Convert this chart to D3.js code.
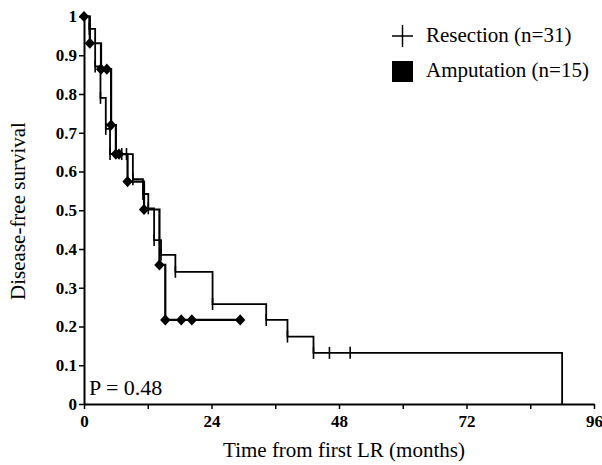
<!DOCTYPE html>
<html lang="en">
<head>
<meta charset="UTF-8">
<script src="https://cdn.jsdelivr.net/npm/d3@7"></script>
<style>
  body { margin: 0; background: #fff; }
  svg text { font-family: "Liberation Serif", "Times New Roman", serif; fill: #000; }
</style>
</head>
<body>
<div id="chart"></div>
<script>
// resection curve: step points (time in months, survival after the drop)
var resTimes = [0, 1.0, 2.1, 3.1, 4.1, 4.9, 9.2, 11.1, 12.1, 13.2, 14.5, 17.2, 24.2, 34.3, 38.3, 43.2, 90];
var resSurv  = [1, 0.968, 0.871, 0.79, 0.71, 0.645, 0.58, 0.542, 0.505, 0.423, 0.385, 0.341, 0.258, 0.217, 0.174, 0.132, 0];
var resCensor = [7.1, 8.0, 46.2, 50.1];

// amputation curve
var ampTimes = [0, 1.1, 3.2, 5.1, 6.0, 8.2, 11.3, 14.2, 15.3];
var ampSurv  = [1, 0.931, 0.864, 0.72, 0.645, 0.574, 0.502, 0.359, 0.217];
var ampCensor = [4.3, 6.6, 18.3, 20.3, 29.4];

var xTicks = [0, 12, 24, 36, 48, 60, 72, 84, 96];
var xLabels = [0, 24, 48, 72, 96];
var yTicks = [0, 0.1, 0.2, 0.3, 0.4, 0.5, 0.6, 0.7, 0.8, 0.9, 1];

var width = 602, height = 465;
var svg = d3.select('#chart').append('svg').attr('width', width).attr('height', height);

var x = d3.scaleLinear().domain([0, 96]).range([84, 594]);
var y = d3.scaleLinear().domain([0, 1]).range([404, 16.5]);

// survival at time t for a step curve
function survAt(times, surv, t) {
    var s = surv[0];
    for (var i = 0; i < times.length; i++) if (times[i] <= t) s = surv[i];
    return s;
}

function stepPoints(times, surv, end) {
    var pts = [];
    times.forEach(function(t, i) { pts.push([t, surv[i]]); });
    if (end != null) pts.push([end, surv[surv.length - 1]]);
    return pts;
}

var line = d3.line().x(function(d){ return x(d[0]); }).y(function(d){ return y(d[1]); }).curve(d3.curveStepAfter);

// resection line
svg.append('path')
    .attr('d', line(stepPoints(resTimes, resSurv)))
    .attr('fill', 'none').attr('stroke', '#000').attr('stroke-width', 1.8);

// resection marks (plus ticks at steps and censors)
var resMarks = [];
resTimes.slice(1, -1).forEach(function(t, i){ resMarks.push([t, resSurv[i + 1]]); });
resCensor.forEach(function(t){ resMarks.push([t, survAt(resTimes, resSurv, t)]); });
svg.selectAll('.rmark').data(resMarks).enter().append('line')
    .attr('x1', function(d){ return x(d[0]); }).attr('x2', function(d){ return x(d[0]); })
    .attr('y1', function(d){ return y(d[1]) - 6; }).attr('y2', function(d){ return y(d[1]) + 6; })
    .attr('stroke', '#000').attr('stroke-width', 1.6);

// amputation line
svg.append('path')
    .attr('d', line(stepPoints(ampTimes, ampSurv, ampCensor[ampCensor.length - 1])))
    .attr('fill', 'none').attr('stroke', '#000').attr('stroke-width', 2.2);

var ampMarks = [];
ampTimes.forEach(function(t, i){ ampMarks.push([t, ampSurv[i]]); });
ampCensor.forEach(function(t){ ampMarks.push([t, survAt(ampTimes, ampSurv, t)]); });
var diamond = d3.symbol().type(d3.symbolDiamond).size(36);
svg.selectAll('.amark').data(ampMarks).enter().append('path')
    .attr('d', diamond)
    .attr('transform', function(d){ return 'translate(' + x(d[0]) + ',' + y(d[1]) + ') scale(1.6,1)'; })
    .attr('fill', '#000');

// axes
var xAxis = svg.append('g').attr('transform', 'translate(0,404)')
    .call(d3.axisBottom(x).tickValues(xTicks).tickSize(5).tickSizeOuter(0)
        .tickFormat(function(d){ return xLabels.indexOf(d) >= 0 ? d : ''; }));
var yAxis = svg.append('g').attr('transform', 'translate(84,0)')
    .call(d3.axisLeft(y).tickValues(yTicks).tickSize(5).tickSizeOuter(0)
        .tickFormat(function(d){ return d3.format('~g')(d); }));
[xAxis, yAxis].forEach(function(a){
    a.select('.domain').attr('stroke', '#000').attr('stroke-width', 2);
    a.selectAll('.tick line').attr('stroke', '#000').attr('stroke-width', 1.5);
    a.selectAll('.tick text').attr('font-family', '"Liberation Serif", serif')
        .attr('font-size', 17).attr('font-weight', 'bold').attr('fill', '#000');
});
xAxis.selectAll('.tick text').attr('y', 9).attr('dy', '0.8em');
yAxis.selectAll('.tick text').attr('x', -7);

// titles
svg.append('text').attr('x', 344).attr('y', 457).attr('text-anchor', 'middle')
    .attr('font-size', 21).text('Time from first LR (months)');
svg.append('text').attr('transform', 'translate(25,211) rotate(-90)').attr('text-anchor', 'middle')
    .attr('font-size', 21).text('Disease-free survival');

// p value
svg.append('text').attr('x', 89).attr('y', 395)
    .attr('font-size', 22)
    .text('P = 0.48');

// legend
svg.append('line').attr('x1', 392).attr('x2', 413).attr('y1', 36).attr('y2', 36).attr('stroke', '#000').attr('stroke-width', 1.5);
svg.append('line').attr('x1', 402.5).attr('x2', 402.5).attr('y1', 25).attr('y2', 47).attr('stroke', '#000').attr('stroke-width', 1.5);
svg.append('text').attr('x', 426).attr('y', 42).attr('font-size', 21).text('Resection (n=31)');
svg.append('rect').attr('x', 392).attr('y', 61).attr('width', 21).attr('height', 21).attr('fill', '#000');
svg.append('text').attr('x', 426).attr('y', 77).attr('font-size', 21).text('Amputation (n=15)');
</script>
</body>
</html>
